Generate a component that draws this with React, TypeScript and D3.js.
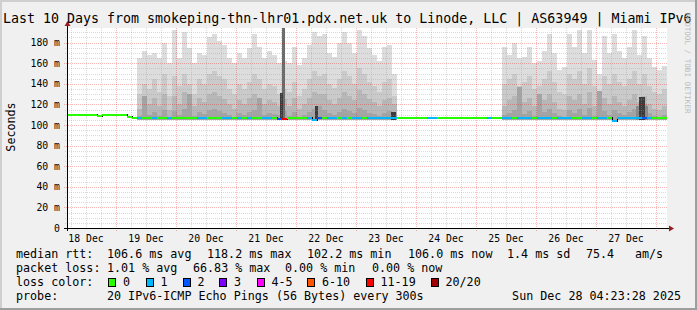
import React from "react";
import * as d3 from "d3";

// ---------- data ----------
const START = Date.UTC(2025, 11, 18, 4, 23, 28);
const END = Date.UTC(2025, 11, 28, 4, 23, 28);
const BIN_HOURS = 2;

const TITLE = "Last 10 Days from smokeping-thn-lhr01.pdx.net.uk to Linode, LLC | AS63949 | Miami IPv6";
const Y_LABEL = "Seconds";
const WATERMARK = "RRDTOOL / TOBI OETIKER";
const Y_MAX = 194.2;
const SMOKE_FLOOR = 105;

const yTicks = [0, 20, 40, 60, 80, 100, 120, 140, 160, 180];
const yTickLabels = ["0", "20 m", "40 m", "60 m", "80 m", "100 m", "120 m", "140 m", "160 m", "180 m"];
const yMinorStep = 5;

const lossLabels = ["0", "1", "2", "3", "4-5", "6-10", "11-19", "20/20"];
const lossColors = ["#26ff00", "#00b8ff", "#0059ff", "#7e00ff", "#ff00ff", "#ff5500", "#ff0000", "#a10000"];

const rttLegend = ["106.6 ms avg", "118.2 ms max", "102.2 ms min", "106.0 ms now", "1.4 ms sd", "75.4", "am/s"];
const lossLegend = ["1.01 % avg", "66.83 % max", "0.00 % min", "0.00 % now"];
const probeText = "20 IPv6-ICMP Echo Pings (56 Bytes) every 300s";
const dateText = "Sun Dec 28 04:23:28 2025";

// median rtt per 2h bin (ms), 120 bins
const median = [
  109.5, 109.6, 109.3, 109.8, 109.8, 109.7, 109.2, 109.6, 109.8, 109.5, 109.3, 109.6,
  107.4, 107.2,
  106.6, 106.5, 106.5, 106.4, 106.5, 106.5, 106.4, 106.5, 106.5, 106.5,
  106.5, 106.4, 106.5, 106.5, 106.5, 106.5, 106.4, 106.5, 106.5, 106.5,
  106.5, 106.5, 106.4, 106.5, 106.5, 106.5, 106.5, 106.4, 106.3, 106.2,
  106.5, 106.5, 106.5, 106.5, 106.4, 105.0, 106.8, 106.5, 106.4, 106.5,
  106.5, 106.4, 106.5, 106.5, 106.4, 106.5, 106.4, 106.5, 106.5, 106.4, 106.5, 106.6,
  106.8, 106.8, 106.9, 106.8, 106.8, 106.8, 106.7, 106.7, 106.8, 106.8, 106.8,
  106.9, 106.8, 106.8, 106.8, 106.8, 106.7, 106.8, 106.7, 106.8, 106.8,
  106.4, 106.4, 106.5, 106.4, 106.4, 106.5, 106.4, 106.4, 106.4, 106.5,
  106.4, 106.4, 106.4, 106.5, 106.4, 106.4, 106.4, 106.5, 106.4, 106.4,
  106.4, 106.4, 104.3, 106.4, 106.4, 106.4, 106.4, 106.5, 107.0, 106.6,
  106.5, 106.4, 106.4,
];

// loss colour index per bin
const lossIdx = [
  0, 0, 0, 0, 0, 0, 0, 0, 0, 0, 0, 0, 0, 0,
  1, 0, 0, 1, 0, 0, 1, 0, 0, 0, 0, 0, 1, 1, 0, 0, 0, 1, 1, 0,
  1, 0, 1, 0, 0, 1, 1, 0, 2, 6, 0, 0, 0, 0, 1, 1, 2, 0, 1, 1,
  0, 1, 0, 1, 1, 0, 1, 1, 1, 1, 1, 1,
  0, 0, 0, 0, 0, 0, 1, 1, 0, 0, 0, 0, 0, 0, 0, 0, 0, 0, 1, 0, 0,
  1, 1, 0, 1, 1, 1, 0, 1, 1, 1, 0, 1, 1, 1, 0, 0, 1, 1, 0, 1,
  1, 0, 1, 1, 1, 1, 1, 1, 2, 1, 0, 0, 0,
];

// smoke (sorted ping levels) for the two smoky periods
const smoke1Start = 14;
const smoke1Max = [165, 172, 168, 170, 165, 180, 160, 192, 165, 190, 175, 160, 170, 168, 185, 188, 182, 178, 165, 160, 170, 165, 175, 188, 176, 165, 172, 168, 160, 162, 160, 176, 158, 165, 178, 190, 186, 188, 170, 166, 180, 190, 180, 170, 192, 186, 175, 168, 162, 176, 178, 150];
const smoke1P19 = [130, 140, 135, 145, 132, 150, 128, 148, 138, 150, 140, 130, 145, 140, 150, 152, 148, 145, 135, 130, 140, 135, 142, 150, 145, 135, 140, 138, 130, 135, 132, 142, 128, 135, 145, 152, 148, 150, 140, 136, 145, 152, 148, 140, 155, 150, 142, 138, 132, 142, 145, 128];
const smoke1P18 = [116, 122, 120, 126, 118, 130, 115, 128, 120, 132, 124, 118, 126, 122, 130, 132, 128, 125, 120, 116, 124, 120, 126, 130, 126, 120, 124, 122, 118, 125, 118, 126, 116, 120, 126, 132, 130, 130, 124, 120, 126, 132, 128, 124, 134, 130, 125, 122, 118, 124, 126, 120];
const smoke1P17 = [109, 128, 110, 113, 109, 115, 108, 114, 110, 116, 130, 109, 113, 111, 115, 116, 114, 112, 110, 108, 112, 110, 113, 115, 126, 110, 112, 111, 110, 114, 109, 113, 108, 110, 113, 116, 118, 115, 112, 110, 113, 116, 114, 112, 117, 115, 112, 111, 109, 112, 114, 112];

const smoke2Start = 87;
const smoke2Max = [176, 168, 180, 165, 166, 176, 160, 162, 172, 188, 170, 153, 156, 188, 176, 192, 170, 192, 163, 150, 186, 170, 188, 172, 165, 176, 192, 168, 186, 165, 156, 153, 157];
const smoke2P19 = [140, 145, 150, 138, 142, 148, 135, 138, 145, 152, 142, 132, 130, 150, 145, 152, 140, 155, 138, 130, 148, 140, 150, 142, 138, 145, 152, 140, 150, 138, 132, 130, 135];
const smoke2P18 = [118, 124, 128, 120, 122, 126, 118, 120, 124, 130, 122, 116, 115, 128, 124, 130, 120, 132, 118, 115, 126, 120, 128, 122, 118, 124, 130, 122, 128, 120, 116, 115, 118];
const smoke2P17 = [110, 112, 115, 137, 111, 114, 109, 130, 113, 116, 112, 109, 108, 115, 112, 116, 110, 117, 109, 133, 114, 110, 115, 112, 110, 113, 116, 118, 120, 112, 109, 108, 110];

// narrow high-density smoke columns
const spikeTimes = ["2025-12-21T18:35:00Z", "2025-12-21T17:35:00Z", "2025-12-22T07:35:00Z", "2025-12-23T13:59:00Z", "2025-12-27T15:59:00Z", "2025-12-27T17:11:00Z"];
const spikeHours = [1.2, 1.2, 1.2, 2, 4.8, 2.4];
const spikeTops = [194.2, 131, 118, 113, 118, 127];
const spikeBands = ["outer", "inner", "inner", "inner", "mid", "inner"];

// ---------- layout ----------
const W = 697;
const H = 310;
const PL = 67;
const PR = 667;
const PT = 28;
const PB = 228;
const FONT = "'DejaVu Sans Mono', monospace";

const smokeShades = ["#dddddd", "#cacaca", "#b7b7b7", "#a4a4a4"];
const spikeShades: Record<string, string> = { outer: "#6b6b6b", mid: "#8a8a8a", inner: "#3c3c3c" };
const MINOR_GRID = "rgba(150,150,150,0.35)";
const MAJOR_GRID = "rgba(235,0,0,0.28)";

export default function App() {
  const x = d3.scaleUtc().domain([new Date(START), new Date(END)]).range([PL, PR]);
  const y = d3.scaleLinear().domain([0, Y_MAX]).range([PB, PT]);
  const binMs = BIN_HOURS * 3600 * 1000;
  const bx0 = (k: number) => x(new Date(START + k * binMs));
  const bx1 = (k: number) => x(new Date(START + (k + 1) * binMs));
  const ry = (v: number) => Math.round(y(v));

  const smokeRects: JSX.Element[] = [];
  const regions = [
    { start: smoke1Start, layers: [smoke1Max, smoke1P19, smoke1P18, smoke1P17] },
    { start: smoke2Start, layers: [smoke2Max, smoke2P19, smoke2P18, smoke2P17] },
  ];
  [0, 1, 2, 3].forEach((L) => {
    regions.forEach((r, ri) => {
      r.layers[L].forEach((v, i) => {
        const k = r.start + i;
        const yt = ry(Math.min(v, Y_MAX));
        const yb = ry(SMOKE_FLOOR);
        smokeRects.push(
          <rect key={`s${L}-${ri}-${i}`} x={bx0(k)} y={yt} width={bx1(k) - bx0(k)} height={yb - yt} fill={smokeShades[L]} />
        );
      });
    });
  });

  const spikeRects = spikeTimes.map((t, i) => {
    const t0 = new Date(t);
    const t1 = new Date(t0.getTime() + spikeHours[i] * 3600 * 1000);
    const x0 = Math.round(x(t0));
    const x1 = Math.max(x0 + 2, Math.round(x(t1)));
    const yt = ry(Math.min(spikeTops[i], Y_MAX));
    const yb = ry(SMOKE_FLOOR);
    return <rect key={`sp${i}`} x={x0} y={yt} width={x1 - x0} height={yb - yt} fill={spikeShades[spikeBands[i]]} />;
  });

  const minorY: number[] = [];
  for (let v = yMinorStep; v < Y_MAX; v += yMinorStep) if (v % 20 !== 0) minorY.push(v);
  const days = d3.utcDay.range(new Date(START), new Date(END));
  const sixHours = d3.utcHour.every(6)!.range(new Date(START), new Date(END)).filter((d) => d.getUTCHours() !== 0);
  const labelDays = d3.utcDay
    .range(d3.utcDay.floor(new Date(START)), new Date(END))
    .filter((d) => d.getTime() + 12 * 3600 * 1000 < END);
  const fmt = d3.utcFormat("%d %b");

  const medRects = median.map((m, k) => {
    const yc = ry(m);
    return <rect key={`m${k}`} x={bx0(k)} y={yc - 1} width={bx1(k) - bx0(k)} height={2} fill={lossColors[lossIdx[k]]} />;
  });
  const connectors: JSX.Element[] = [];
  median.forEach((m, k) => {
    if (k === 0) return;
    const a = ry(median[k - 1]);
    const b = ry(m);
    if (Math.abs(a - b) >= 1) {
      const xx = bx0(k) + 0.5;
      connectors.push(<line key={`c${k}`} x1={xx} x2={xx} y1={Math.min(a, b) - 1} y2={Math.max(a, b) + 1} stroke="#000" strokeWidth={1} />);
    }
  });

  const rttX = [107, 207, 307, 408, 507, 586, 635];
  const lossX = [107, 193, 285, 372];
  const swX = [108, 145.5, 182.5, 219, 256.5, 307, 365.5, 430.5];

  return (
    <svg width={W} height={H} style={{ position: "absolute", left: 0, top: 0 }} xmlns="http://www.w3.org/2000/svg">
      <rect x={0} y={0} width={W} height={H} fill="#f0f0f0" />
      <rect x={0} y={0} width={W} height={2} fill="#cfcfcf" />
      <rect x={0} y={0} width={2} height={H} fill="#cfcfcf" />
      <rect x={0} y={H - 2} width={W} height={2} fill="#9e9e9e" />
      <rect x={W - 2} y={0} width={2} height={H} fill="#9e9e9e" />
      <rect x={PL} y={PT} width={PR - PL} height={PB - PT} fill="#ffffff" />

      <g shapeRendering="crispEdges">
        {smokeRects}
        {spikeRects}
      </g>

      <g shapeRendering="crispEdges" strokeWidth={1}>
        {minorY.map((v) => (
          <line key={`gy${v}`} x1={PL - 2} x2={PR} y1={ry(v) + 0.5} y2={ry(v) + 0.5} stroke={MINOR_GRID} strokeDasharray="1,1" />
        ))}
        {sixHours.map((d, i) => (
          <line key={`gx${i}`} x1={Math.round(x(d)) + 0.5} x2={Math.round(x(d)) + 0.5} y1={PT} y2={PB + 2} stroke={MINOR_GRID} strokeDasharray="1,1" />
        ))}
        {yTicks.filter((v) => v > 0).map((v) => (
          <line key={`My${v}`} x1={PL - 3} x2={PR} y1={ry(v) + 0.5} y2={ry(v) + 0.5} stroke={MAJOR_GRID} strokeDasharray="1,1" />
        ))}
        {days.map((d, i) => (
          <line key={`Mx${i}`} x1={Math.round(x(d)) + 0.5} x2={Math.round(x(d)) + 0.5} y1={PT} y2={PB + 3} stroke={MAJOR_GRID} strokeDasharray="1,1" />
        ))}
      </g>

      <g shapeRendering="crispEdges">
        {connectors}
        {medRects}
      </g>

      <g shapeRendering="crispEdges">
        <line x1={PL - 3} x2={PR + 3} y1={PB + 0.5} y2={PB + 0.5} stroke="#000" />
        <line x1={PL + 0.5} x2={PL + 0.5} y1={PB + 3} y2={PT - 3} stroke="#000" />
      </g>
      <path d={`M${PL + 0.5 - 3},${PT - 2} L${PL + 0.5 + 3},${PT - 2} L${PL + 0.5},${PT - 7} Z`} fill="#9b1c1c" />
      <path d={`M${PR + 2},${PB + 0.5 - 3} L${PR + 2},${PB + 0.5 + 3} L${PR + 7},${PB + 0.5} Z`} fill="#9b1c1c" />

      <g fontFamily={FONT} fontSize={9.8} fill="#000">
        {yTicks.map((v, i) => (
          <text key={`yl${v}`} x={60} y={y(v) + 3.5} textAnchor="end">{yTickLabels[i]}</text>
        ))}
        {labelDays.map((d, i) => (
          <text key={`xl${i}`} x={x(new Date(d.getTime() + 12 * 3600 * 1000))} y={241.5} textAnchor="middle">{fmt(d)}</text>
        ))}
      </g>

      <text x={3} y={23} fontFamily={FONT} fontSize={13.3} fill="#000">{TITLE}</text>
      <text transform="translate(15,127) rotate(-90)" textAnchor="middle" fontFamily={FONT} fontSize={11.7} fill="#000">{Y_LABEL}</text>
      <text transform="translate(685,13) rotate(90)" fontFamily={FONT} fontSize={7.6} fill="#bdbdbd">{WATERMARK}</text>

      <g fontFamily={FONT} fontSize={11.7} fill="#000">
        <text x={16} y={258}>median rtt:</text>
        {rttLegend.map((t, i) => (
          <text key={`r${i}`} x={rttX[i]} y={258}>{t}</text>
        ))}
        <text x={16} y={272}>packet loss:</text>
        {lossLegend.map((t, i) => (
          <text key={`l${i}`} x={lossX[i]} y={272}>{t}</text>
        ))}
        <text x={16} y={286}>loss color:</text>
        {lossLabels.map((t, i) => (
          <g key={`sw${i}`}>
            <rect x={swX[i] + 0.5} y={278.5} width={7} height={8} fill={lossColors[i]} stroke="#000" strokeWidth={1} shapeRendering="crispEdges" />
            <text x={swX[i] + 15} y={286}>{t}</text>
          </g>
        ))}
        <text x={16} y={300}>probe:</text>
        <text x={107} y={300}>{probeText}</text>
        <text x={681} y={300} textAnchor="end">{dateText}</text>
      </g>
    </svg>
  );
}
